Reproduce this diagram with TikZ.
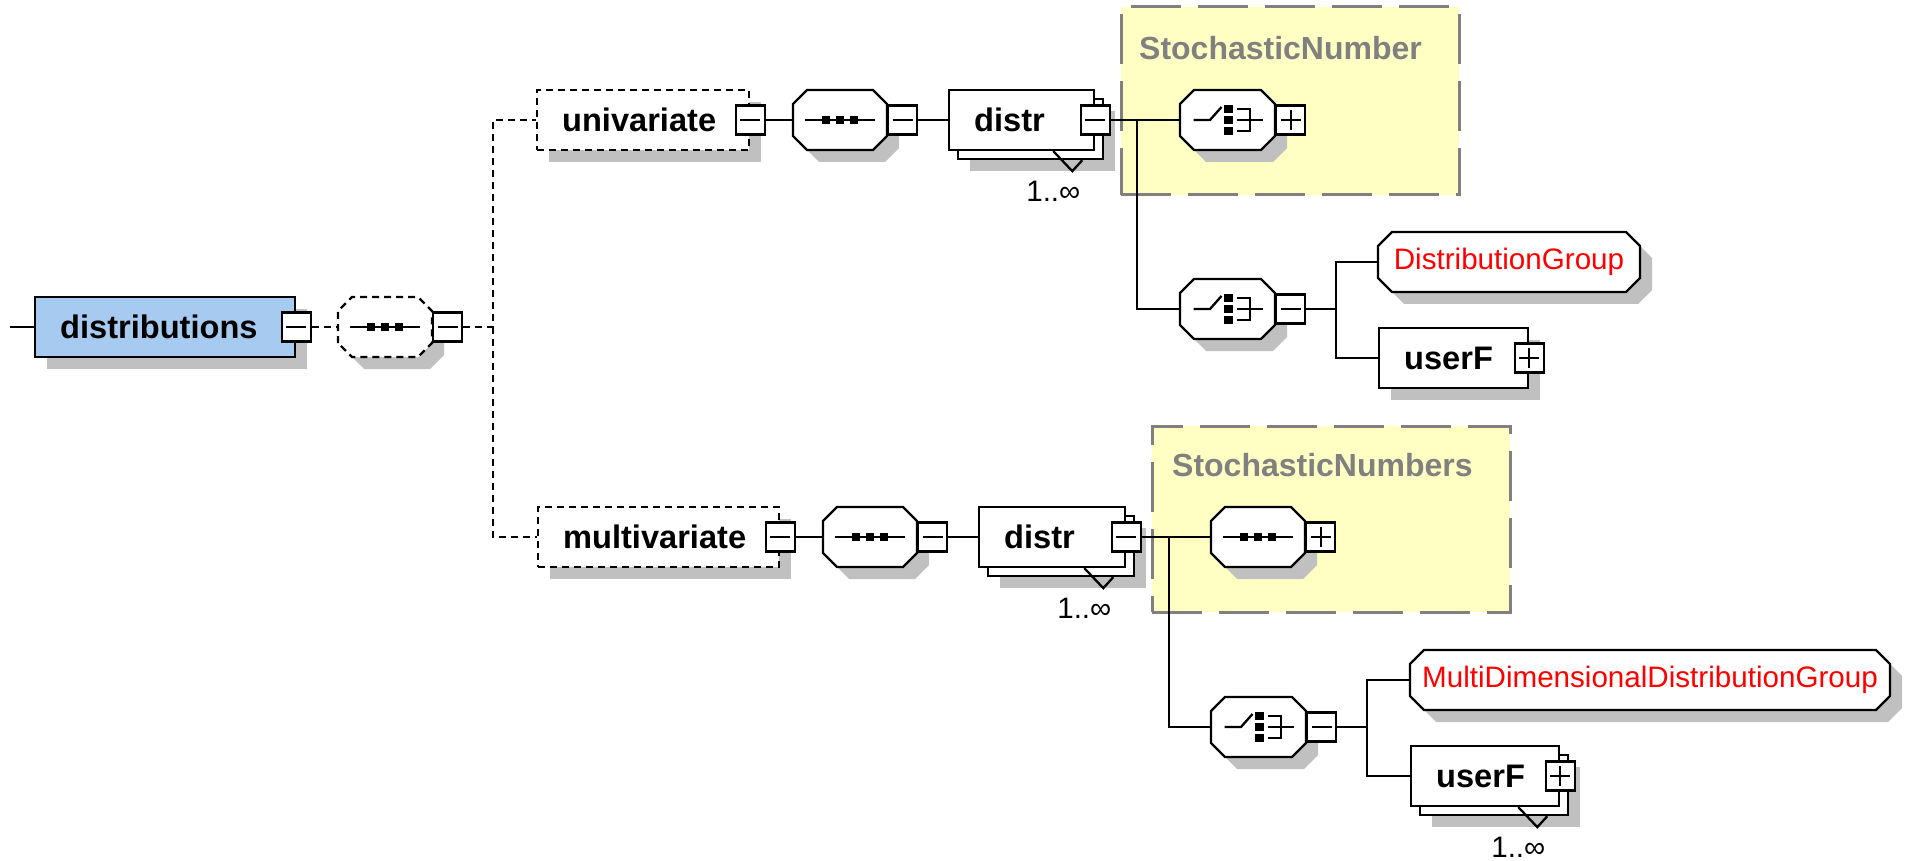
\documentclass[tikz,border=0pt]{standalone}
\usepackage{fontspec}
\setmainfont{Liberation Sans}
\usetikzlibrary{calc, shadows}

\definecolor{elblue}{HTML}{A6CAF0}
\definecolor{grpyellow}{HTML}{FFFFC4}
\definecolor{shgray}{HTML}{C0C0C0}
\definecolor{grpgray}{HTML}{808080}

% octagon with cut corners, anchors as a rectangle
\newdimen\octxa \newdimen\octya \newdimen\octxb \newdimen\octyb
\def\octcut{7pt}
\makeatletter
\pgfdeclareshape{octbox}{
  \inheritsavedanchors[from=rectangle]
  \inheritanchorborder[from=rectangle]
  \inheritanchor[from=rectangle]{center}
  \inheritanchor[from=rectangle]{north}
  \inheritanchor[from=rectangle]{south}
  \inheritanchor[from=rectangle]{west}
  \inheritanchor[from=rectangle]{east}
  \inheritanchor[from=rectangle]{north east}
  \inheritanchor[from=rectangle]{north west}
  \inheritanchor[from=rectangle]{south east}
  \inheritanchor[from=rectangle]{south west}
  \backgroundpath{
    \southwest \octxa=\pgf@x \octya=\pgf@y
    \northeast \octxb=\pgf@x \octyb=\pgf@y
    \pgfpathmoveto{\pgfqpoint{\octxa}{\dimexpr\octya+\octcut\relax}}
    \pgfpathlineto{\pgfqpoint{\octxa}{\dimexpr\octyb-\octcut\relax}}
    \pgfpathlineto{\pgfqpoint{\dimexpr\octxa+\octcut\relax}{\octyb}}
    \pgfpathlineto{\pgfqpoint{\dimexpr\octxb-\octcut\relax}{\octyb}}
    \pgfpathlineto{\pgfqpoint{\octxb}{\dimexpr\octyb-\octcut\relax}}
    \pgfpathlineto{\pgfqpoint{\octxb}{\dimexpr\octya+\octcut\relax}}
    \pgfpathlineto{\pgfqpoint{\dimexpr\octxb-\octcut\relax}{\octya}}
    \pgfpathlineto{\pgfqpoint{\dimexpr\octxa+\octcut\relax}{\octya}}
    \pgfpathclose
  }
}
\makeatother

\tikzset{
  shd/.style={drop shadow={shadow xshift=6pt, shadow yshift=-6pt, fill=shgray, opacity=1}},
  dsh/.style={dash pattern=on 3.5pt off 2.5pt},
  elbase/.style={draw, fill=white, anchor=west, minimum height=30pt, inner xsep=12.5pt, inner ysep=0pt,
    align=left, font=\fontsize{16.3}{18}\selectfont\bfseries},
  elbox/.style={elbase, shd},
  optbox/.style={elbox, dsh},
  multibox/.style={elbase, drop shadow={shadow xshift=10.5pt, shadow yshift=-10.5pt, fill=shgray, opacity=1},
    copy shadow={shadow xshift=4.5pt, shadow yshift=-4.5pt, draw, fill=white}},
  octa/.style={shape=octbox, draw, fill=white, anchor=west, minimum height=30pt, inner sep=0pt,
    outer sep=0pt, shd},
  seqnode/.style={octa, minimum width=47pt, path picture={
    \coordinate (pc) at (path picture bounding box.center);
    \draw[solid] ([xshift=-17.5pt]pc) -- ([xshift=17.5pt]pc);
    \foreach \dx in {-7pt,0pt,7pt}
      \fill[black] ([xshift=\dx]pc) +(-1.9pt,-1.9pt) rectangle +(1.9pt,1.9pt);
  }},
  choicenode/.style={octa, minimum width=47.5pt, path picture={
    \coordinate (pc) at (path picture bounding box.center);
    \draw[solid] ([xshift=-17pt]pc) -- ++(8.25pt,0) -- ++(5.75pt,6.5pt);
    \foreach \dy in {5.5pt,0pt,-5.5pt}
      \fill[black] ([yshift=\dy]pc) +(-1.75pt,-2pt) rectangle +(2.5pt,2pt);
    \draw[solid] ([shift={(4.5pt,5.5pt)}]pc) -- ++(6.75pt,0) -- ++(0,-11pt) -- ++(-6.75pt,0);
    \draw[solid] ([xshift=4.5pt]pc) -- ++(13.25pt,0);
  }},
  grpref/.style={octa, text=red, font=\fontsize{14.8}{17}\selectfont},
  sqbox/.style={draw, fill=white, solid, minimum size=14.5pt, inner sep=0pt},
  minus/.style={sqbox, path picture={
    \draw ([xshift=-5pt]path picture bounding box.center) -- ([xshift=5pt]path picture bounding box.center);}},
  plus/.style={sqbox, path picture={
    \draw ([xshift=-5pt]path picture bounding box.center) -- ([xshift=5pt]path picture bounding box.center);
    \draw ([yshift=-5pt]path picture bounding box.center) -- ([yshift=5pt]path picture bounding box.center);}},
  grp/.style={draw=grpgray, fill=grpyellow, line width=1.5pt, dash pattern=on 25pt off 8.5pt, inner sep=0pt},
  grptitle/.style={anchor=west, text=grpgray, inner sep=0pt, font=\fontsize{16}{18}\selectfont\bfseries},
  occ/.style={inner sep=0pt, font=\fontsize{14.8}{17}\selectfont},
}

\begin{document}
\begin{tikzpicture}[x=0.5pt, y=-0.5pt, line width=1.15pt]
\useasboundingbox (0,0) rectangle (1906,861);
% substitution groups
\node[grp, minimum width=169pt, minimum height=94pt] (ugrp) at (1290,101) {};
\node[grptitle] (ugrpt) at (1138,48) {StochasticNumber};
\node[grp, minimum width=179pt, minimum height=93pt] (lgrp) at (1331,519) {};
\node[grptitle] (lgrpt) at (1171,465) {StochasticNumbers};
% root element
\coordinate (stub) at (10,327);
\node[elbox, fill=elblue, text width=105pt] (dist) at (34,327) {distributions};
\node[minus] (distm) at (dist.east) {};
\node[seqnode, dsh] (dseq) at (338,327) {};
\node[minus, anchor=west] (dseqm) at (dseq.east) {};
\coordinate (fk) at (493,327);
% univariate
\node[optbox, text width=81pt] (uni) at (536,120) {univariate};
\node[minus] (unim) at (uni.east) {};
\node[seqnode] (useq) at (793,120) {};
\node[minus, anchor=west] (useqm) at (useq.east) {};
\node[multibox, text width=47.5pt] (udistr) at (948,120) {distr};
\node[minus] (udistrm) at (udistr.east) {};
\node[occ] (udistrn) at ($(udistr.south east)+(-21pt,-20pt)$) {1..∞};
\node[choicenode] (uch1) at (1180,120) {};
\node[plus, anchor=west] (uch1p) at (uch1.east) {};
\node[choicenode] (uch2) at (1180,309) {};
\node[minus, anchor=west] (uch2m) at (uch2.east) {};
\node[grpref, minimum width=131pt] (dg) at (1378,262) {DistributionGroup};
\node[elbox, text width=49.5pt] (uuf) at (1378,358) {userF};
\node[plus] (uufp) at (uuf.east) {};
\coordinate (uj) at (1137,120);
\coordinate (uk) at (1336,309);
% multivariate
\node[optbox, text width=95.5pt] (multi) at (537,537) {multivariate};
\node[minus] (multim) at (multi.east) {};
\node[seqnode] (lseq) at (823,537) {};
\node[minus, anchor=west] (lseqm) at (lseq.east) {};
\node[multibox, text width=48pt] (ldistr) at (978,537) {distr};
\node[minus] (ldistrm) at (ldistr.east) {};
\node[occ] (ldistrn) at ($(ldistr.south east)+(-21pt,-20pt)$) {1..∞};
\node[seqnode] (lseq2) at (1211,537) {};
\node[plus, anchor=west] (lseq2p) at (lseq2.east) {};
\node[choicenode] (lch) at (1211,727) {};
\node[minus, anchor=west] (lchm) at (lch.east) {};
\node[grpref, minimum width=240pt] (mdg) at (1410,680) {MultiDimensionalDistributionGroup};
\node[multibox, text width=49pt] (luf) at (1410,776) {userF};
\node[plus] (lufp) at (luf.east) {};
\node[occ] (lufn) at ($(luf.south east)+(-21pt,-20pt)$) {1..∞};
\coordinate (lj) at (1169,537);
\coordinate (lk) at (1367,727);
% occurrence marks
\draw ($(udistr.south east)+(-21pt,0)$) -- ++(9.5pt,-10pt) -- ++(5pt,5.5pt);
\draw ($(ldistr.south east)+(-21pt,0)$) -- ++(9.5pt,-10pt) -- ++(5pt,5.5pt);
\draw ($(luf.south east)+(-21pt,0)$) -- ++(9.5pt,-10pt) -- ++(5pt,5.5pt);
% connectors
\draw (stub) -- (dist.west);
\draw[dsh] (distm.east) -- (dseq.west);
\draw[dsh] (dseqm.east) -- (fk) |- (uni.west);
\draw[dsh] (fk) |- (multi.west);
\draw (unim.east) -- (useq.west);
\draw (useqm.east) -- (udistr.west);
\draw (udistrm.east) -- (uch1.west);
\draw (uj) |- (uch2.west);
\draw (uch2m.east) -- (uk);
\draw (dg.west) -| (uk) |- (uuf.west);
\draw (multim.east) -- (lseq.west);
\draw (lseqm.east) -- (ldistr.west);
\draw (ldistrm.east) -- (lseq2.west);
\draw (lj) |- (lch.west);
\draw (lchm.east) -- (lk);
\draw (mdg.west) -| (lk) |- (luf.west);
\end{tikzpicture}
\end{document}
